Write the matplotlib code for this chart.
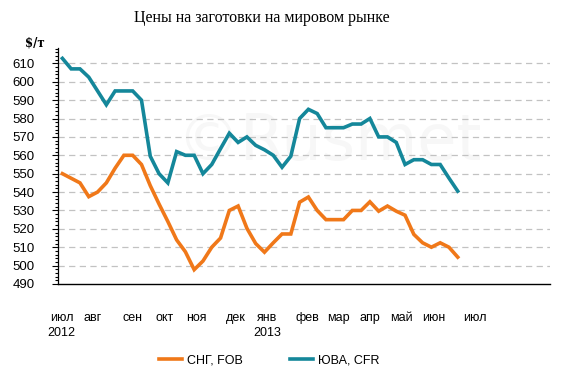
import matplotlib.pyplot as plt
from matplotlib.ticker import MultipleLocator

# недельные цены, $/т (июль 2012 - май 2013)
cis_fob = [550, 547.5, 545, 537.5, 540, 545, 553, 560, 560, 555,
           543.5, 533.5, 524, 514, 507.5, 497.8, 502.5, 510, 515, 530,
           532.4, 520.3, 512, 507.3, 512.4, 517.2, 517.2, 534.5, 537.3, 530,
           525, 525, 525, 530, 530, 534.7, 529.6, 532.4, 529.6, 527.4,
           517, 512.4, 510, 512.4, 510, 504.6]
sea_cfr = [612.7, 607, 607, 602.5, 595, 587.5, 595, 595, 595, 590,
           559.5, 550, 545, 562, 560, 560, 550, 555, 563.6, 572,
           567, 570, 565.4, 563, 560, 553.5, 559.5, 580, 585, 582.7,
           575, 575, 575, 577, 577, 580, 570, 570, 567, 555,
           557.6, 557.6, 555, 555, 547.6, 540.5]

n_weeks = 56
month_pos = [-0.1, 3.4, 8.0, 11.6, 15.2, 19.7, 23.3, 27.9, 31.4, 35.0, 38.6, 42.3, 46.9]
month_labels = ['июл\n2012', 'авг', 'сен', 'окт', 'ноя', 'дек', 'янв\n2013',
                'фев', 'мар', 'апр', 'май', 'июн', 'июл']

orange = '#F07819'
teal = '#14879A'

fig = plt.figure(figsize=(5.79, 3.78), dpi=100)
ax = fig.add_axes([0.1002, 0.2487, 0.8497, 0.625])

x = range(len(cis_fob))
ax.plot(x, cis_fob, color=orange, lw=2.6, label='СНГ, FOB', solid_joinstyle='miter')
ax.plot(x, sea_cfr, color=teal, lw=2.6, label='ЮВА, CFR', solid_joinstyle='miter')

ax.set_xlim(-0.5, n_weeks - 0.5)
ax.set_ylim(490, 618.5)
ax.set_yticks(range(490, 611, 10))
ax.yaxis.set_minor_locator(MultipleLocator(2))
ax.tick_params(axis='y', which='major', length=4, width=0.8, labelsize=9.5, pad=13)
ax.tick_params(axis='y', which='minor', length=2.5, width=0.8)
for lbl in ax.get_yticklabels():
    lbl.set_fontfamily('Liberation Sans')

ax.set_xticks(month_pos)
ax.set_xticklabels(month_labels, fontsize=9, family='Liberation Sans',
                   linespacing=1.35, va='top')
ax.tick_params(axis='x', length=0, pad=20)
for lbl in ax.get_xticklabels():
    lbl.set_horizontalalignment('center')

for v in range(500, 611, 10):
    ax.axhline(v, color='#c2c2c2', lw=0.9, ls=(0, (5, 3.5)), zorder=0)

for s in ['top', 'right']:
    ax.spines[s].set_visible(False)
ax.spines['left'].set_linewidth(0.9)
ax.spines['bottom'].set_linewidth(1.0)

# водяной знак
ax.text(0.55, 0.6, '©Rusmet', transform=ax.transAxes, fontsize=46,
        color='#f7f7f7', ha='center', va='center', zorder=-1, family='DejaVu Sans')

fig.text(0.452, 0.952, 'Цены на заготовки на мировом рынке', ha='center', va='center',
         fontsize=11.5, family='Liberation Serif')
fig.text(0.06, 0.886, '$/т', ha='center', va='center', fontsize=8.5,
         family='DejaVu Serif', fontweight='bold')

fig.legend(loc='lower center', bbox_to_anchor=(0.465, 0.0), ncol=2, frameon=False,
           handlelength=1.9, columnspacing=3.7, handletextpad=0.4,
           prop={'family': 'Liberation Sans', 'size': 9})

fig.savefig('out.png', dpi=100)
